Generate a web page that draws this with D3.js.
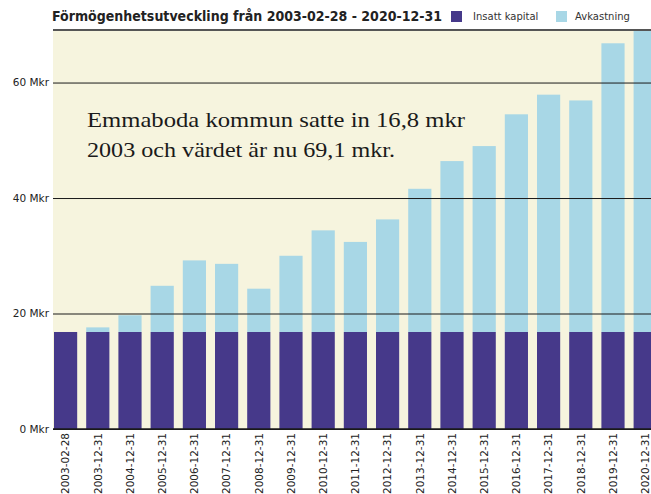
<!DOCTYPE html>
<html>
<head>
<meta charset="utf-8">
<script src="https://cdn.jsdelivr.net/npm/d3@7"></script>
<style>
  html, body { margin: 0; padding: 0; background: #ffffff; }
  svg { display: block; }
</style>
</head>
<body>
<svg id="chart" width="651" height="494"></svg>
<script>
// Reporting dates (x categories)
const categories = [
  "2003-02-28", "2003-12-31", "2004-12-31", "2005-12-31", "2006-12-31",
  "2007-12-31", "2008-12-31", "2009-12-31", "2010-12-31", "2011-12-31",
  "2012-12-31", "2013-12-31", "2014-12-31", "2015-12-31", "2016-12-31",
  "2017-12-31", "2018-12-31", "2019-12-31", "2020-12-31"
];
// Paid-in capital, Mkr
const insattKapital = [
  16.8, 16.8, 16.8, 16.8, 16.8, 16.8, 16.8, 16.8, 16.8, 16.8,
  16.8, 16.8, 16.8, 16.8, 16.8, 16.8, 16.8, 16.8, 16.8
];
// Return on top of paid-in capital, Mkr
const avkastning = [
  0.0, 0.8, 2.9, 8.0, 12.4, 11.8, 7.5, 13.2, 17.6, 15.6,
  19.5, 24.8, 29.6, 32.2, 37.7, 41.1, 40.1, 50.0, 52.3
];
// Y axis ticks, Mkr
const yTicks = [0, 20, 40, 60];

const seriesNames = ["Insatt kapital", "Avkastning"];
const colors = { "Insatt kapital": "#46398a", "Avkastning": "#a8d7e6" };

const svg = d3.select("#chart");
const W = 651;
const plot = { left: 53, top: 30, bottom: 429 };

const rows = categories.map((c, i) => ({
  date: c, "Insatt kapital": insattKapital[i], "Avkastning": avkastning[i]
}));
const stacked = d3.stack().keys(seriesNames)(rows);

const step = 32.2;
const x = d3.scaleBand()
  .domain(categories)
  .range([plot.left + 1, plot.left + 1 + step * (categories.length - 0.28)])
  .paddingInner(0.28)
  .paddingOuter(0);

const yMax = 69.1;
const y = d3.scaleLinear().domain([0, yMax]).range([plot.bottom, plot.top]);

// Plot background
svg.append("rect")
  .attr("x", plot.left).attr("y", plot.top)
  .attr("width", W - plot.left).attr("height", plot.bottom - plot.top)
  .attr("fill", "#f6f4de");

// Stacked bars
svg.append("g").selectAll("g")
  .data(stacked)
  .join("g")
  .attr("fill", d => colors[d.key])
  .selectAll("rect")
  .data(d => d)
  .join("rect")
  .attr("x", d => x(d.data.date))
  .attr("y", d => y(d[1]))
  .attr("width", x.bandwidth())
  .attr("height", d => y(d[0]) - y(d[1]));

// Gridlines and y labels
const yAxis = d3.axisLeft(y)
  .tickValues(yTicks)
  .tickSize(-(W - plot.left))
  .tickPadding(4)
  .tickFormat(d => d + " Mkr");
const gy = svg.append("g")
  .attr("transform", `translate(${plot.left},0)`)
  .call(yAxis);
gy.select(".domain").remove();
gy.selectAll(".tick line").attr("stroke", "#1a1a1a").attr("stroke-width", 1);
gy.selectAll(".tick text")
  .attr("fill", "#222")
  .style("font-family", "'DejaVu Sans', sans-serif")
  .style("font-size", "10.5px");

// Top border of plot
svg.append("line")
  .attr("x1", plot.left).attr("x2", W)
  .attr("y1", plot.top).attr("y2", plot.top)
  .attr("stroke", "#555").attr("stroke-width", 2);

// X axis with rotated date labels
const xAxis = d3.axisBottom(x).tickSize(0).tickPadding(0);
const gx = svg.append("g")
  .attr("transform", `translate(0,${plot.bottom})`)
  .call(xAxis);
gx.select(".domain").remove();
gx.selectAll(".tick text")
  .attr("transform", "rotate(-90)")
  .attr("x", -4)
  .attr("y", 0)
  .attr("dy", "0.36em")
  .attr("text-anchor", "end")
  .attr("fill", "#222")
  .style("font-family", "'DejaVu Sans', sans-serif")
  .style("font-size", "10.5px");

svg.append("line")
  .attr("x1", plot.left).attr("x2", W)
  .attr("y1", plot.bottom).attr("y2", plot.bottom)
  .attr("stroke", "#1a1a1a").attr("stroke-width", 1.5);

// Title
svg.append("text")
  .attr("x", 52).attr("y", 21)
  .attr("fill", "#222")
  .attr("textLength", 390)
  .attr("lengthAdjust", "spacingAndGlyphs")
  .style("font-family", "'DejaVu Sans Condensed', 'DejaVu Sans', sans-serif")
  .style("font-weight", "bold")
  .style("font-size", "14px")
  .text("Förmögenhetsutveckling från 2003-02-28 - 2020-12-31");

// Legend
const legend = [
  { name: "Insatt kapital", sx: 451, tx: 473 },
  { name: "Avkastning", sx: 556, tx: 575 }
];
const lg = svg.append("g");
lg.selectAll("rect").data(legend).join("rect")
  .attr("x", d => d.sx).attr("y", 11)
  .attr("width", 11).attr("height", 11)
  .attr("fill", d => colors[d.name]);
lg.selectAll("text").data(legend).join("text")
  .attr("x", d => d.tx).attr("y", 20)
  .attr("fill", "#333")
  .style("font-family", "'DejaVu Sans', sans-serif")
  .style("font-size", "10px")
  .text(d => d.name);

// Annotation
const note = svg.append("text")
  .attr("fill", "#1a1a1a")
  .style("font-family", "'Liberation Serif', serif")
  .style("font-size", "21px");
note.append("tspan").attr("x", 87).attr("y", 127)
  .attr("textLength", 378).attr("lengthAdjust", "spacingAndGlyphs")
  .text("Emmaboda kommun satte in 16,8 mkr");
note.append("tspan").attr("x", 87).attr("y", 157)
  .attr("textLength", 308).attr("lengthAdjust", "spacingAndGlyphs")
  .text("2003 och värdet är nu 69,1 mkr.");
</script>
</body>
</html>
